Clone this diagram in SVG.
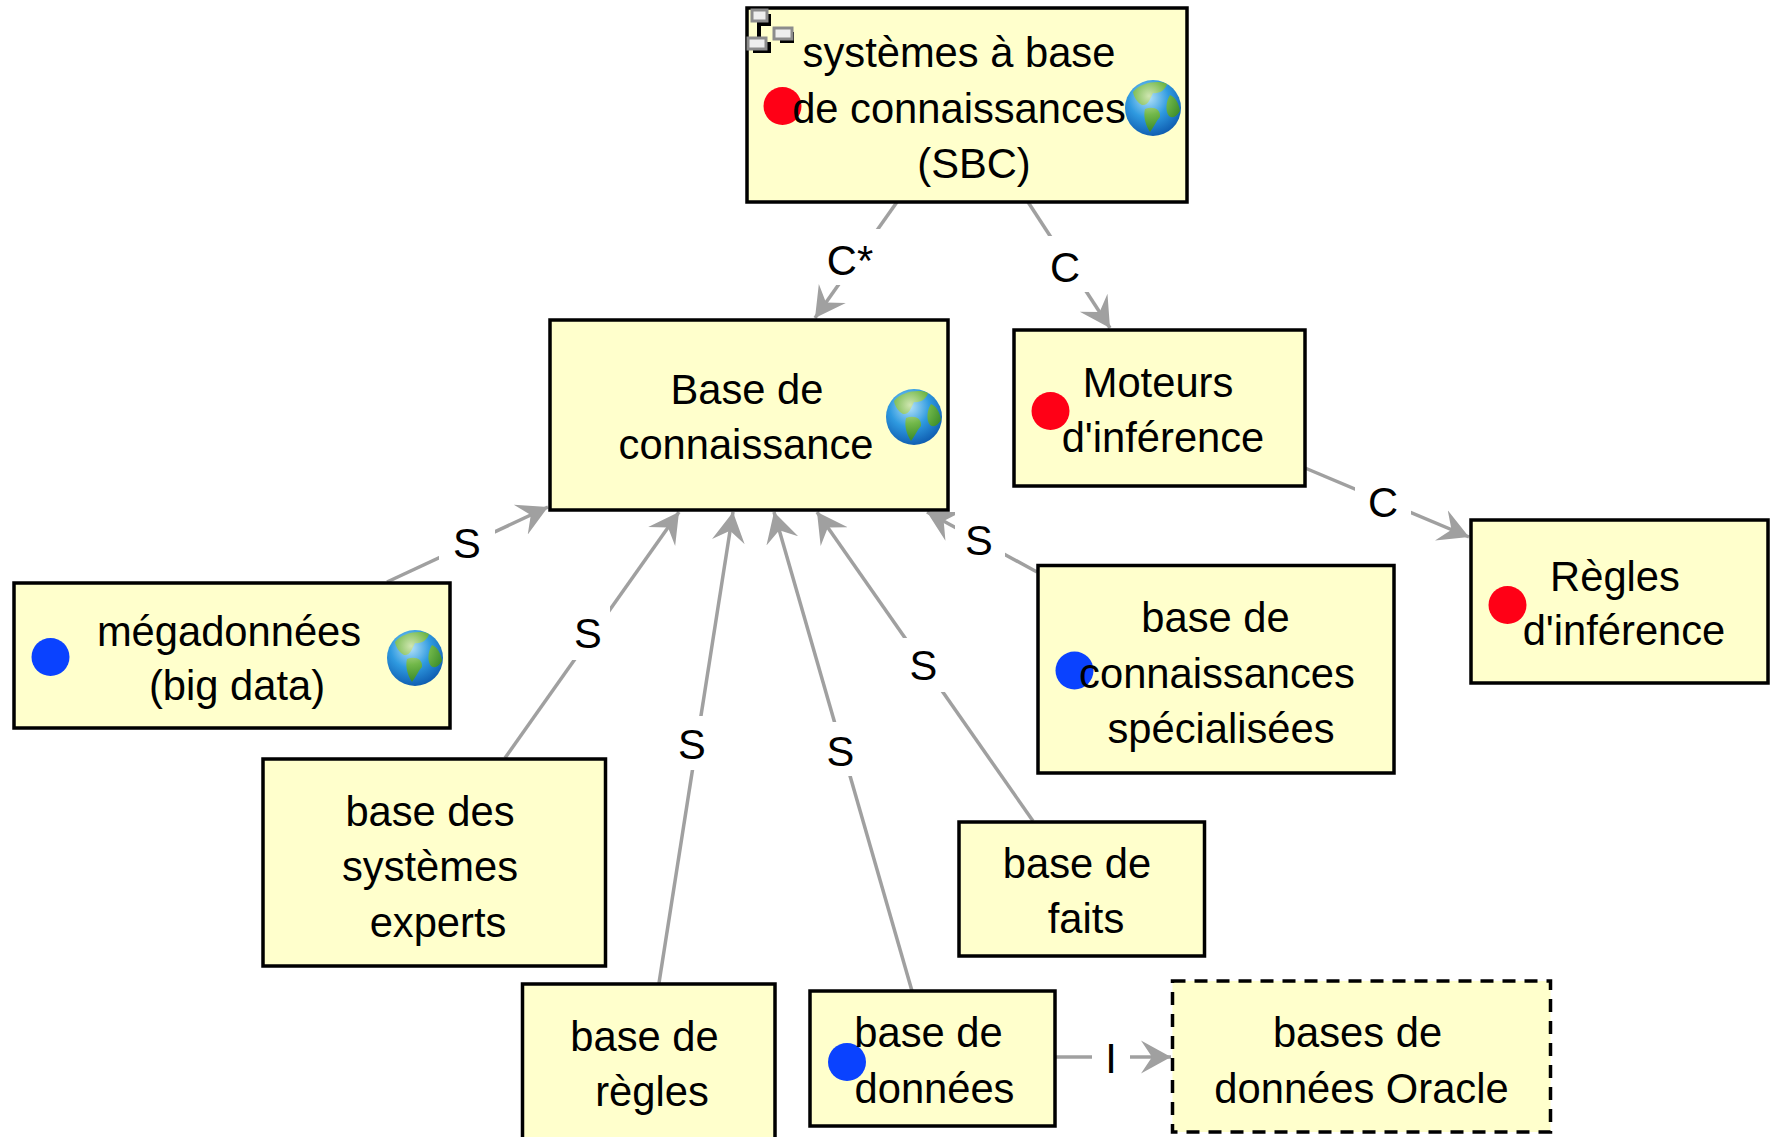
<svg xmlns="http://www.w3.org/2000/svg" width="1772" height="1137" viewBox="0 0 1772 1137">
<style>
.n{fill:#ffffcc;stroke:#000;stroke-width:3.500}
.d{stroke-dasharray:13 9}
text{font-family:"Liberation Sans",Arial,sans-serif;font-size:41.7px;fill:#000;text-anchor:middle}
.c line{stroke:#a0a0a0;stroke-width:3.500;marker-end:url(#a)}
.c rect{fill:#fff}
.r{fill:#ff0016}.b{fill:#0a42ff}
.i rect{fill:#eee;stroke:#8c8c8c;stroke-width:3}
.i path{fill:#000}
</style>
<defs>
<marker id="a" markerUnits="userSpaceOnUse" markerWidth="36" markerHeight="36" refX="30" refY="18" orient="auto" viewBox="0 0 36 36"><path d="M30 18L0 1.500L11 18L0 34.500Z" fill="#a0a0a0"/></marker>
<radialGradient id="o" cx=".42" cy=".32" r=".72"><stop offset="0" stop-color="#b5e2f8"/><stop offset=".5" stop-color="#2f9ae0"/><stop offset="1" stop-color="#0c58ad"/></radialGradient>
<radialGradient id="l" gradientUnits="userSpaceOnUse" cx="-4" cy="-12" r="34"><stop offset="0" stop-color="#cfe5b0"/><stop offset=".55" stop-color="#72b84a"/><stop offset="1" stop-color="#3f8f2c"/></radialGradient>
<g id="g"><circle r="28" fill="url(#o)"/><path d="M-20-16C-12-26 6-28 14-24C12-17 5-14 0-15C-3-9-5-2-11-3C-15-5-19-10-20-16ZM-8 1C0-2 8 1 7 9C3 13 1 19-3 24C-7 18-10 9-8 1ZM17-13C22-11 26-5 27 3C24 8 20 11 16 8C12 3 13-7 17-13Z" fill="url(#l)"/></g>
</defs>
<g class="c" id="connectors">
<line x1="897" y1="202" x2="815" y2="318"/>
<line x1="1028" y1="202" x2="1110" y2="328"/>
<line x1="1305" y1="468" x2="1469" y2="537"/>
<line x1="387" y1="582" x2="548" y2="507"/>
<line x1="505" y1="758" x2="679" y2="512"/>
<line x1="659" y1="983" x2="733" y2="512"/>
<line x1="912" y1="991" x2="774" y2="512"/>
<line x1="1033" y1="821" x2="817" y2="512"/>
<line x1="1037" y1="572" x2="927" y2="512"/>
<line x1="1055" y1="1057" x2="1171" y2="1057"/>
<rect x="820" y="229" width="60" height="56"/><text x="850" y="275">C*</text>
<rect x="1040" y="236" width="50" height="56"/><text x="1065" y="282">C</text>
<rect x="1355" y="473" width="56" height="56"/><text x="1383" y="517">C</text>
<rect x="439" y="514" width="56" height="56"/><text x="467" y="558">S</text>
<rect x="566" y="606" width="44" height="54"/><text x="588" y="648">S</text>
<rect x="668" y="716" width="48" height="54"/><text x="692" y="759">S</text>
<rect x="816" y="722" width="48" height="54"/><text x="840.500" y="766">S</text>
<rect x="900" y="638" width="46" height="54"/><text x="923.500" y="680">S</text>
<rect x="955" y="512" width="50" height="56"/><text x="979" y="555">S</text>
<rect x="1092" y="1030" width="38" height="54"/><text x="1111" y="1073">I</text>
</g>
<g id="n1"><rect class="n" x="747" y="8" width="440" height="194"/>
<g class="i"><path d="M757 14h14v12h-10v12h-4zM780 32h14v11h-14zM753 42h18v11h-18z"/><rect x="752" y="10" width="15" height="11"/><rect x="774" y="28" width="18" height="11"/><rect x="748" y="38" width="18" height="11"/></g>
<circle class="r" cx="782.500" cy="106" r="19"/><text x="959" y="67">systèmes à base</text><text x="959" y="122.500">de connaissances</text><text x="974" y="178">(SBC)</text><use href="#g" x="1153" y="108"/></g>
<g id="n2"><rect class="n" x="550" y="320" width="398" height="190"/><text x="747" y="403.500">Base de</text><text x="746" y="458.500">connaissance</text><use href="#g" x="914" y="417"/></g>
<g id="n3"><rect class="n" x="1014" y="330" width="291" height="156"/><circle class="r" cx="1050.500" cy="411" r="19"/><text x="1158" y="396.500">Moteurs</text><text x="1163" y="451.500">d'inférence</text></g>
<g id="n4"><rect class="n" x="1471" y="520" width="297" height="163"/><circle class="r" cx="1507.500" cy="605" r="19"/><text x="1615" y="590.500">Règles</text><text x="1624" y="645">d'inférence</text></g>
<g id="n5"><rect class="n" x="14" y="583" width="436" height="145"/><circle class="b" cx="50.500" cy="657" r="19"/><text x="229" y="645.500">mégadonnées</text><text x="237" y="700">(big data)</text><use href="#g" x="415" y="658"/></g>
<g id="n6"><rect class="n" x="263" y="759" width="342.500" height="207"/><text x="430" y="825.500">base des</text><text x="430" y="880.500">systèmes</text><text x="438" y="936.500">experts</text></g>
<g id="n7"><rect class="n" x="522.500" y="984" width="252.500" height="170"/><text x="644.500" y="1050.500">base de</text><text x="652" y="1105.500">règles</text></g>
<g id="n8"><rect class="n" x="810" y="991" width="245" height="135"/><circle class="b" cx="847" cy="1062" r="19"/><text x="928.500" y="1046.500">base de</text><text x="934.500" y="1102.500">données</text></g>
<g id="n9"><rect class="n d" x="1172.500" y="981" width="378" height="151"/><text x="1357.500" y="1046.500">bases de</text><text x="1361.500" y="1102.500">données Oracle</text></g>
<g id="n10"><rect class="n" x="959" y="822" width="245.500" height="134"/><text x="1077" y="877.500">base de</text><text x="1086" y="932.500">faits</text></g>
<g id="n11"><rect class="n" x="1038" y="565.500" width="356" height="207.500"/><circle class="b" cx="1074.500" cy="670.500" r="19"/><text x="1215.500" y="631.500">base de</text><text x="1217" y="687.500">connaissances</text><text x="1221" y="742.500">spécialisées</text></g>
</svg>
